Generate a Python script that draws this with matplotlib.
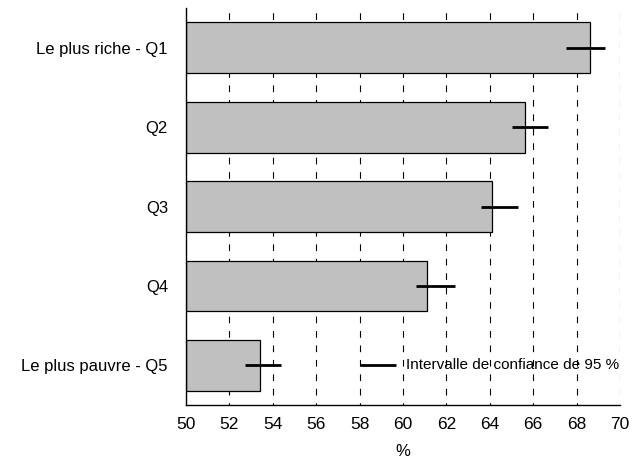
import numpy as np
import matplotlib.pyplot as plt

plt.rcParams['font.family'] = ['Liberation Sans', 'DejaVu Sans']

# données
categories = ['Le plus riche - Q1', 'Q2', 'Q3', 'Q4', 'Le plus pauvre - Q5']
values = [68.6, 65.6, 64.1, 61.1, 53.4]
ci_low = [67.5, 65.0, 63.6, 60.6, 52.7]
ci_high = [69.3, 66.7, 65.3, 62.4, 54.4]
xticks = list(range(50, 71, 2))
legend_label = 'Intervalle de confiance de 95 %'

fig = plt.figure(figsize=(6.38, 4.61), dpi=100)
ax = fig.add_axes([0.2915, 0.1215, 0.6803, 0.861])

ypos = np.arange(len(categories))[::-1]
ax.barh(ypos, [v - 50 for v in values], left=50, height=0.64,
        color='#c0c0c0', edgecolor='black', linewidth=0.9, zorder=2)
ax.hlines(ypos, ci_low, ci_high, color='black', linewidth=2, zorder=3)

# légende faite à la main
ax.hlines(ypos[-1], 58.0, 59.7, color='black', linewidth=2, zorder=3)
ax.text(60.15, ypos[-1], legend_label, fontsize=11, va='center', ha='left', zorder=4)

ax.set_xlim(50, 70)
ax.set_ylim(-0.5, 4.5)
ax.set_xticks(xticks)
ax.set_yticks(ypos)
ax.set_yticklabels(categories, fontsize=12)
ax.tick_params(axis='x', labelsize=12.5, length=0, pad=9)
ax.tick_params(axis='y', length=0, pad=13)
ax.set_xlabel('%', fontsize=12, labelpad=8)

for x in xticks[1:]:
    ax.axvline(x, color='black', linestyle=(4, (6, 7)), linewidth=0.8, zorder=1)

ax.spines['top'].set_visible(False)
ax.spines['right'].set_visible(False)
ax.spines['left'].set_linewidth(1.0)
ax.spines['bottom'].set_linewidth(1.0)

fig.savefig('out.png', dpi=100)
